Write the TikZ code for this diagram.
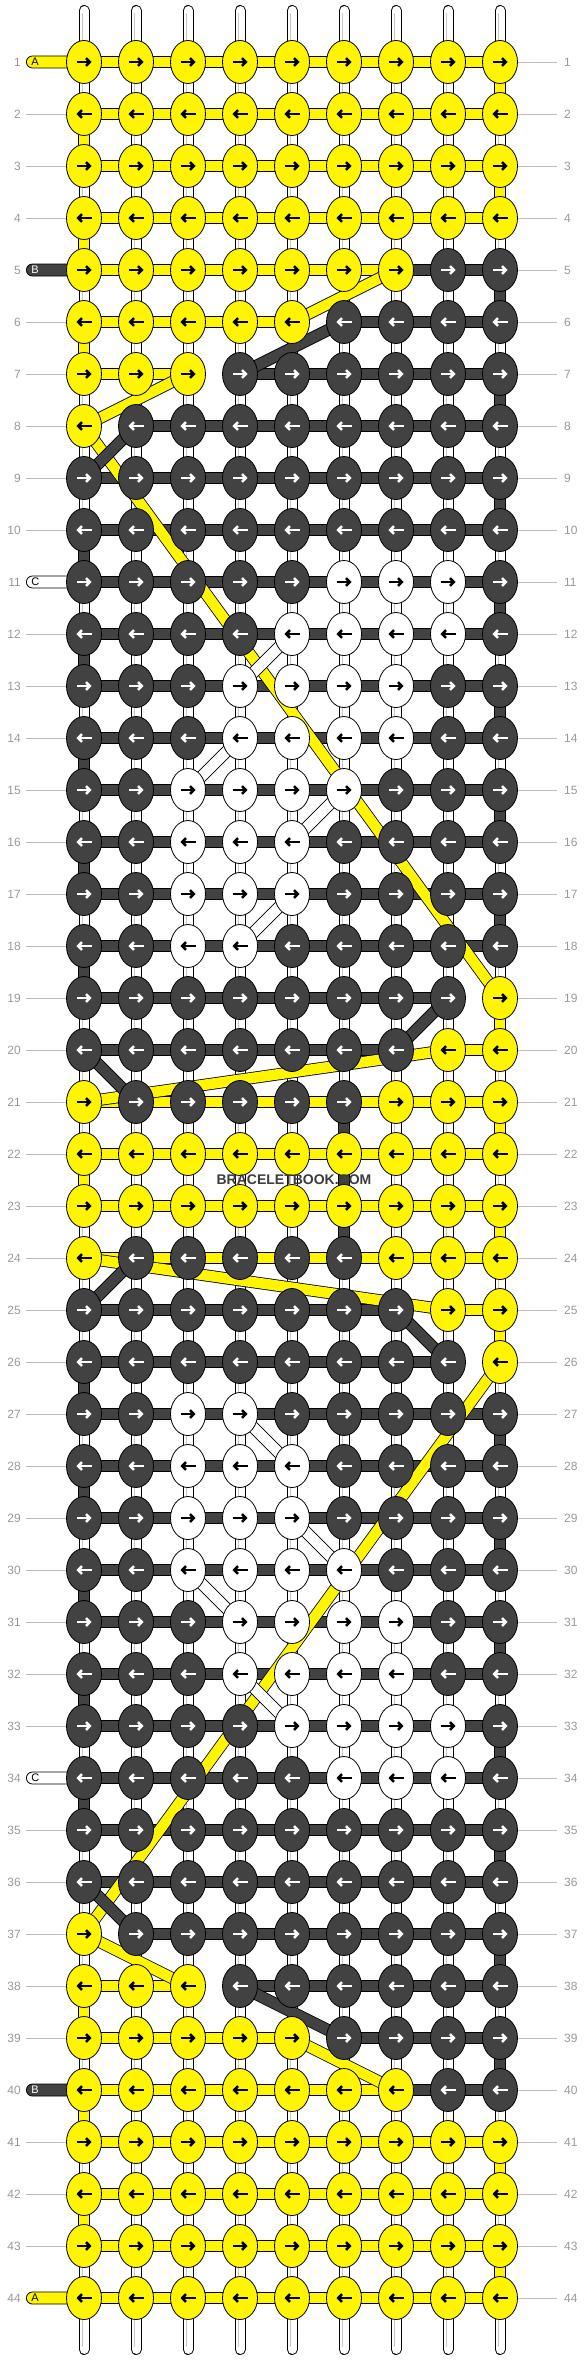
\documentclass[tikz,border=0pt]{standalone}
\usepackage{fontspec}
\setmainfont{Liberation Sans}
\usetikzlibrary{shapes.geometric,arrows.meta}
\definecolor{cY}{HTML}{FFF500}
\definecolor{cD}{HTML}{424242}
\definecolor{cW}{HTML}{FFFFFF}
\definecolor{numgrey}{HTML}{999999}
\definecolor{rulegrey}{HTML}{BDBDBD}
\definecolor{logogrey}{HTML}{3C3C3C}
\pgfdeclarelayer{back}
\pgfdeclarelayer{strings}
\pgfdeclarelayer{carry}
\pgfdeclarelayer{front}
\pgfsetlayers{back,strings,carry,main,front}
\tikzset{
  knot/.style={draw,ellipse,line width=0.8pt,minimum width=35pt,
    minimum height=43pt,inner sep=0pt},
  arrY/.style={black}, arrD/.style={white}, arrW/.style={black},
  knotarrow/.style={line width=2.6pt,-{Straight Barb[length=3.7pt,width=7.8pt]}},
  yarn/.style={line width=0.8pt,double distance=10.5pt},
  tube/.style={line width=1pt,double=white,double distance=9pt,line cap=round},
  tubecore/.style={draw=black!22,line width=0.7pt,double=white,double distance=3pt},
  rowno/.style={text=numgrey,font=\fontsize{12}{12}\selectfont,inner sep=0pt},
  guide/.style={rulegrey,line width=0.8pt},
  tab/.style={draw,line width=0.8pt,rounded corners=6pt,minimum height=12pt,
    text width=40pt,inner xsep=5pt,inner ysep=0pt,anchor=west,align=left,
    font=\fontsize{11}{11}\selectfont}
}
\begin{document}
\begin{tikzpicture}[x=1pt,y=-1pt]
\useasboundingbox (0,0) rectangle (584,2360);
% knots, row by row: knot colours / colours of the bars between them
\foreach \r/\kk/\bb in {
  1/{Y,Y,Y,Y,Y,Y,Y,Y,Y}/{Y,Y,Y,Y,Y,Y,Y,Y},
  2/{Y,Y,Y,Y,Y,Y,Y,Y,Y}/{Y,Y,Y,Y,Y,Y,Y,Y},
  3/{Y,Y,Y,Y,Y,Y,Y,Y,Y}/{Y,Y,Y,Y,Y,Y,Y,Y},
  4/{Y,Y,Y,Y,Y,Y,Y,Y,Y}/{Y,Y,Y,Y,Y,Y,Y,Y},
  5/{Y,Y,Y,Y,Y,Y,Y,D,D}/{Y,Y,Y,Y,Y,Y,D,D},
  6/{Y,Y,Y,Y,Y,D,D,D,D}/{Y,Y,Y,Y,N,D,D,D},
  7/{Y,Y,Y,D,D,D,D,D,D}/{Y,Y,N,D,D,D,D,D},
  8/{Y,D,D,D,D,D,D,D,D}/{N,D,D,D,D,D,D,D},
  9/{D,D,D,D,D,D,D,D,D}/{D,D,D,D,D,D,D,D},
  10/{D,D,D,D,D,D,D,D,D}/{D,D,D,D,D,D,D,D},
  11/{D,D,D,D,D,W,W,W,D}/{D,D,D,D,D,D,D,D},
  12/{D,D,D,D,W,W,W,W,D}/{D,D,D,D,D,D,D,D},
  13/{D,D,D,W,W,W,W,D,D}/{D,D,D,D,D,D,D,D},
  14/{D,D,D,W,W,W,W,D,D}/{D,D,D,D,D,D,D,D},
  15/{D,D,W,W,W,W,D,D,D}/{D,D,D,D,D,D,D,D},
  16/{D,D,W,W,W,D,D,D,D}/{D,D,D,D,D,D,D,D},
  17/{D,D,W,W,W,D,D,D,D}/{D,D,D,D,D,D,D,D},
  18/{D,D,W,W,D,D,D,D,D}/{D,D,D,D,D,D,D,D},
  19/{D,D,D,D,D,D,D,D,Y}/{D,D,D,D,D,D,D,N},
  20/{D,D,D,D,D,D,D,Y,Y}/{D,D,D,D,D,D,N,Y},
  21/{Y,D,D,D,D,D,Y,Y,Y}/{Y,Y,Y,Y,Y,Y,Y,Y},
  22/{Y,Y,Y,Y,Y,Y,Y,Y,Y}/{Y,Y,Y,Y,Y,Y,Y,Y},
  23/{Y,Y,Y,Y,Y,Y,Y,Y,Y}/{Y,Y,Y,Y,Y,Y,Y,Y},
  24/{Y,D,D,D,D,D,Y,Y,Y}/{Y,Y,Y,Y,Y,Y,Y,Y},
  25/{D,D,D,D,D,D,D,Y,Y}/{D,D,D,D,D,D,N,Y},
  26/{D,D,D,D,D,D,D,D,Y}/{D,D,D,D,D,D,D,N},
  27/{D,D,W,W,D,D,D,D,D}/{D,D,D,D,D,D,D,D},
  28/{D,D,W,W,W,D,D,D,D}/{D,D,D,D,D,D,D,D},
  29/{D,D,W,W,W,D,D,D,D}/{D,D,D,D,D,D,D,D},
  30/{D,D,W,W,W,W,D,D,D}/{D,D,D,D,D,D,D,D},
  31/{D,D,D,W,W,W,W,D,D}/{D,D,D,D,D,D,D,D},
  32/{D,D,D,W,W,W,W,D,D}/{D,D,D,D,D,D,D,D},
  33/{D,D,D,D,W,W,W,W,D}/{D,D,D,D,D,D,D,D},
  34/{D,D,D,D,D,W,W,W,D}/{D,D,D,D,D,D,D,D},
  35/{D,D,D,D,D,D,D,D,D}/{D,D,D,D,D,D,D,D},
  36/{D,D,D,D,D,D,D,D,D}/{D,D,D,D,D,D,D,D},
  37/{Y,D,D,D,D,D,D,D,D}/{N,D,D,D,D,D,D,D},
  38/{Y,Y,Y,D,D,D,D,D,D}/{Y,Y,N,D,D,D,D,D},
  39/{Y,Y,Y,Y,Y,D,D,D,D}/{Y,Y,Y,Y,N,D,D,D},
  40/{Y,Y,Y,Y,Y,Y,Y,D,D}/{Y,Y,Y,Y,Y,Y,D,D},
  41/{Y,Y,Y,Y,Y,Y,Y,Y,Y}/{Y,Y,Y,Y,Y,Y,Y,Y},
  42/{Y,Y,Y,Y,Y,Y,Y,Y,Y}/{Y,Y,Y,Y,Y,Y,Y,Y},
  43/{Y,Y,Y,Y,Y,Y,Y,Y,Y}/{Y,Y,Y,Y,Y,Y,Y,Y},
  44/{Y,Y,Y,Y,Y,Y,Y,Y,Y}/{Y,Y,Y,Y,Y,Y,Y,Y}}{
  \ifodd\r \def\xa{-7.5}\def\xb{7.5}\else \def\xa{7.5}\def\xb{-7.5}\fi
  \foreach \k [count=\c] in \kk {
    \node[knot,fill=c\k] (k\r-\c) at ({84+52*(\c-1)},{62+52*(\r-1)}) {};
    \draw[knotarrow,arr\k] ([xshift=\xa]k\r-\c.center) -- ([xshift=\xb]k\r-\c.center);
  }
  \begin{pgfonlayer}{strings}
    \foreach \b [count=\g] in \bb {
      \if\b N\else
        \pgfmathtruncatemacro\h{\g+1}
        \draw[yarn,double=c\b] (k\r-\g.center) -- (k\r-\h.center);
      \fi
    }
  \end{pgfonlayer}
}
\begin{pgfonlayer}{back}
  \foreach \c in {1,...,9} {
    \coordinate (top\c) at ({84+52*(\c-1)},10.5);
    \coordinate (bot\c) at ({84+52*(\c-1)},2349.5);
    \draw[tube] (top\c) -- (bot\c);
    \draw[tubecore] ([yshift=-3]top\c) -- ([yshift=3]bot\c);
  }
  \foreach \r in {1,...,44} {
    \node[rowno,anchor=east] (ll\r) at (21,{62+52*(\r-1)}) {\r};
    \node[rowno,anchor=west] (rl\r) at (564,{62+52*(\r-1)}) {\r};
    \draw[guide] ([xshift=5]ll\r.east) -- (k\r-1.west);
    \draw[guide] (k\r-9.east) -- ([xshift=-7]rl\r.west);
  }
  \foreach \r/\s/\t/\tc in {1/Y/A/black,5/D/B/white,11/W/C/black,
      34/W/C/black,40/D/B/white,44/Y/A/black}
    \node[tab,fill=c\s,text=\tc] (tab\r) at (26,{62+52*(\r-1)}) {\t};
\end{pgfonlayer}
% turns at the edges and the strand that runs down column 6
\begin{pgfonlayer}{strings}
  \foreach \c/\r/\s in {9/1/Y,9/3/Y,9/5/D,9/7/D,9/9/D,9/11/D,9/13/D,9/15/D,
      9/17/D,9/19/Y,9/21/Y,9/23/Y,9/25/Y,9/27/D,9/29/D,9/31/D,9/33/D,9/35/D,
      9/37/D,9/39/D,9/41/Y,9/43/Y,
      1/2/Y,1/4/Y,1/6/Y,1/10/D,1/12/D,1/14/D,1/16/D,1/18/D,1/22/Y,1/26/D,
      1/28/D,1/30/D,1/32/D,1/34/D,1/38/Y,1/40/Y,1/42/Y,
      6/21/D,6/22/D,6/23/D} {
    \pgfmathtruncatemacro\n{\r+1}
    \draw[yarn,double=c\s] (k\r-\c.center) -- (k\n-\c.center);
  }
\end{pgfonlayer}
% carried strands
\begin{pgfonlayer}{carry}
  \foreach \a/\z/\s in {5-7/6-5/Y,7-3/8-1/Y,8-1/19-9/Y,20-8/21-1/Y,
      24-1/25-8/Y,26-9/37-1/Y,37-1/38-3/Y,39-5/40-7/Y,
      6-6/7-4/D,8-2/9-1/D,19-8/20-7/D,20-1/21-2/D,24-2/25-1/D,
      25-7/26-8/D,36-1/37-2/D,38-4/39-6/D,
      12-5/13-4/W,14-4/15-3/W,15-6/16-5/W,17-5/18-4/W,
      27-4/28-5/W,29-5/30-6/W,30-3/31-4/W,32-4/33-5/W}
    \draw[yarn,double=c\s] (k\a.center) -- (k\z.center);
\end{pgfonlayer}
\begin{pgfonlayer}{front}
  \node[font=\bfseries\fontsize{14}{14}\selectfont,text=logogrey] (logo)
    at (294,1180) {BRACELETBOOK.COM};
\end{pgfonlayer}
\end{tikzpicture}
\end{document}
